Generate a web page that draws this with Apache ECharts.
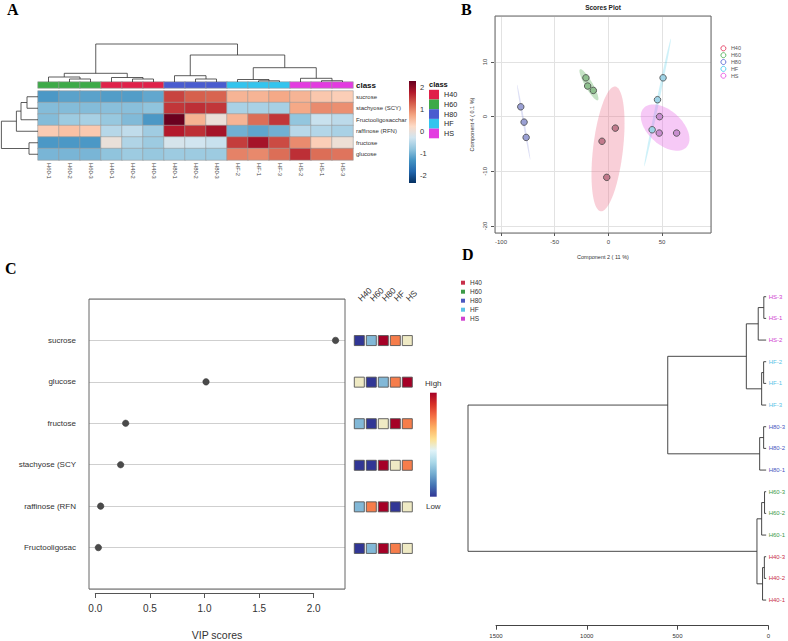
<!DOCTYPE html>
<html>
<head>
<meta charset="utf-8">
<script src="https://cdn.jsdelivr.net/npm/echarts@6/dist/echarts.min.js"></script>
<style>
html, body { margin: 0; padding: 0; background: #fff; }
#main { width: 788px; height: 641px; }
</style>
</head>
<body>
<div id="main"></div>
<script>
// ---- data ----
var groups = ['H40', 'H60', 'H80', 'HF', 'HS'];

// A: heatmap (z-scores), columns in dendrogram order
var samples = ['H60-1','H60-2','H60-3','H40-1','H40-2','H40-3','H80-1','H80-2','H80-3','HF-2','HF-1','HF-3','HS-2','HS-1','HS-3'];
var sampleClass = ['H60','H60','H60','H40','H40','H40','H80','H80','H80','HF','HF','HF','HS','HS','HS'];
var features = ['sucrose','stachyose (SCY)','Fructooligosacchar','raffinose (RFN)','fructose','glucose'];
var zSucrose   = [-1.25,-1.15,-1.15,-1.2,-1.2,-1.1, 1.45,1.25,1.22, 0.6,0.6,0.7, 0.6,0.42,0.35];
var zStachyose = [-0.88,-0.88,-0.88,-0.85,-0.85,-0.8, 1.55,1.6,1.55, -0.6,-0.6,-0.62, 0.7,0.93,0.9];
var zFructoOli = [-0.88,-0.7,-0.62,-0.75,-0.9,-1.25, 2.25,0.62,0.02, 0.6,1.15,1.55, -0.78,-0.35,-0.45];
var zRaffinose = [0.38,0.48,0.4, -0.5,-0.42,-0.68, 1.75,1.6,1.85, -1.0,-1.12,-1.0, -0.48,-0.52,-0.6];
var zFructose  = [-1.25,-1.25,-1.25, 0.0,-0.55,-0.7, -0.22,-0.28,-0.35, 1.5,1.85,1.4, 0.93,0.35,0.05];
var zGlucose   = [-0.95,-0.95,-0.95, -0.8,-0.7,-0.75, -0.7,-0.7,-0.7, 1.0,0.95,1.15, 1.6,1.15,1.1];
var zRange = [-2.32, 2.27];
// hclust style merges: negative = leaf (1-based), positive = earlier merge; third = height
var colMerge = [[-2,-3,3],[-1,1,5],[-5,-6,3],[-4,3,4.5],[2,4,8.7],[-8,-9,3],[-7,6,6.3],
                [-11,-12,1.2],[-10,8,2.5],[-14,-15,1.3],[-13,10,3.7],[9,11,14.3],[7,12,27],[5,13,38]];
var rowMerge = [[-1,-2,11],[1,-3,17],[2,-4,21.6],[-5,-6,9],[3,4,36.6]];

// B: scores (Component 2, Component 4)
var scoresH40 = [[6.5,-2.1],[-5.9,-4.5],[-1.5,-11.1]];
var scoresH60 = [[-20.9,7.1],[-19.3,5.6],[-14.0,4.8]];
var scoresH80 = [[-81.6,1.8],[-78.5,-1.0],[-76.6,-3.8]];
var scoresHF  = [[51.0,7.1],[45.8,3.1],[40.8,-2.4]];
var scoresHS  = [[47.7,0.0],[47.4,-3.0],[63.6,-3.0]];

// C: VIP scores and group level per feature (H40,H60,H80,HF,HS)
var vipNames  = ['sucrose','glucose','fructose','stachyose (SCY','raffinose (RFN','Fructooligosac'];
var vipScores = [2.20, 1.014, 0.278, 0.232, 0.049, 0.028];
var vipLevels = [[1,2,5,4,3],[3,1,2,4,5],[2,1,3,5,4],[1,1,5,3,4],[2,4,5,1,3],[1,2,5,4,3]];

// D: sample dendrogram
var dLeaves = ['HS-3','HS-1','HS-2','HF-2','HF-1','HF-3','H80-3','H80-2','H80-1','H60-3','H60-2','H60-1','H40-3','H40-2','H40-1'];
var dMerge = [[-1,-2,13],[1,-3,44],[-4,-5,14],[3,-6,25],[2,4,110],[-7,-8,14],[6,-9,36],[5,7,546],
              [-10,-11,9],[9,-12,25],[-13,-14,10],[11,-15,20],[10,12,51],[8,13,1654]];

// ---- styles ----
var groupColors = ['#E0214A', '#3DAA48', '#4A5CCF', '#33C4EE', '#E33BE0'];
var dColors = ['#C8304A', '#3C9A48', '#4A58C0', '#5BC3E6', '#D040D0'];
var ellipseFill = ['rgba(235,95,125,0.3)', 'rgba(60,160,60,0.3)', 'rgba(100,110,210,0.22)',
                   'rgba(60,200,230,0.25)', 'rgba(230,100,230,0.35)'];
var pointFill = ['#c27a8c', '#8fc08f', '#9aa0d4', '#9ed3e6', '#c88ed0'];
var rdbu = ['#053061','#2166AC','#4393C3','#92C5DE','#D1E5F0','#FDDBC7','#F4A582','#D6604D','#B2182B','#67001F'];
var rdylbu = ['#313695','#4575B4','#74ADD1','#ABD9E9','#E0F3F8','#FEE090','#FDAE61','#F46D43','#D73027','#A50026'];
var FONT = '"Liberation Sans", Arial, sans-serif';

function dendroLines(merge, flip) {
  var pos = [], hgt = [], out = [];
  function node(ref) { return ref < 0 ? [-ref - 1, 0] : [pos[ref - 1], hgt[ref - 1]]; }
  merge.forEach(function (m) {
    var a = node(m[0]), b = node(m[1]), h = m[2];
    pos.push((a[0] + b[0]) / 2); hgt.push(h);
    var pts = [[a[0], a[1]], [a[0], h], [b[0], h], [b[0], b[1]]];
    out.push({ coords: flip ? pts.map(function (p) { return [p[1], p[0]]; }) : pts });
  });
  return out;
}

// 95% normal ellipse from the group's scores
function ellipse95(pts) {
  var n = pts.length, mx = 0, my = 0, a = 0, b = 0, c = 0;
  pts.forEach(function (p) { mx += p[0] / n; my += p[1] / n; });
  pts.forEach(function (p) {
    var dx = p[0] - mx, dy = p[1] - my;
    a += dx * dx / (n - 1); b += dx * dy / (n - 1); c += dy * dy / (n - 1);
  });
  var k = Math.sqrt(5.991), l11 = Math.sqrt(a), l21 = b / l11, l22 = Math.sqrt(Math.max(c - l21 * l21, 0));
  var out = [];
  for (var i = 0; i < 90; i++) {
    var t = i / 90 * 2 * Math.PI, u = Math.cos(t), v = Math.sin(t);
    out.push([mx + k * l11 * u, my + k * (l21 * u + l22 * v)]);
  }
  return out;
}

// ---- build ----
var heatRows = [zSucrose, zStachyose, zFructoOli, zRaffinose, zFructose, zGlucose];
var heatData = [];
heatRows.forEach(function (row, r) { row.forEach(function (v, c) { heatData.push([c, r, v]); }); });
var classData = samples.map(function (s, i) {
  return { value: [i, 0, 0], itemStyle: { color: groupColors[groups.indexOf(sampleClass[i])] } };
});

var scoreSets = [scoresH40, scoresH60, scoresH80, scoresHF, scoresHS];
var ellipses = scoreSets.map(ellipse95);

var vipDots = vipScores.map(function (v, i) { return [v, 6 - i]; });
var vipSquares = [];
vipLevels.forEach(function (row, i) { row.forEach(function (l, g) { vipSquares.push([g, 6 - i, l]); }); });

var leafRich = {};
groups.forEach(function (g, i) { leafRich[g] = { color: dColors[i], fontSize: 6, fontFamily: FONT }; });

function gradientBar(colors) {
  return function (params, api) {
    var cs = params.coordSys;
    var stops = colors.map(function (c, i) { return { offset: 1 - i / (colors.length - 1), color: c }; }).reverse();
    return { type: 'rect', shape: { x: cs.x, y: cs.y, width: cs.width, height: cs.height },
      style: { fill: new echarts.graphic.LinearGradient(0, 0, 0, 1, stops) } };
  };
}

var hidden = { show: false };
function hx(grid, extra) { return Object.assign({ gridIndex: grid, type: 'value', show: false }, extra || {}); }

var chart = echarts.init(document.getElementById('main'), null, { renderer: 'svg' });

var option = {
  animation: false,
  backgroundColor: '#fff',
  textStyle: { fontFamily: FONT },
  grid: [
    { left: 38, top: 91, width: 315, height: 69 },          // 0 A heatmap
    { left: 38, top: 82, width: 315, height: 6 },           // 1 A class bar
    { left: 38, top: 40, width: 315, height: 42 },          // 2 A col tree
    { left: 0, top: 91, width: 38, height: 69 },            // 3 A row tree
    { left: 409, top: 81, width: 7, height: 102 },          // 4 A colour bar
    { left: 495, top: 16, width: 216, height: 217, show: true, borderColor: '#666', borderWidth: 1, z: 3 }, // 5 B
    { left: 501, top: 232, width: 161, height: 1 },         // 6 B x axis
    { left: 494, top: 62, width: 1, height: 164 },          // 7 B y axis
    { left: 89, top: 299, width: 256, height: 291, show: true, borderColor: '#666', borderWidth: 1, z: 3 }, // 8 C
    { left: 95.3, top: 592, width: 218.4, height: 1 },      // 9 C x axis
    { left: 353.3, top: 299, width: 60, height: 291 },      // 10 C squares
    { left: 430, top: 392.7, width: 6.7, height: 104 },     // 11 C colour bar
    { left: 462, top: 285.9, width: 306.3, height: 325 },   // 12 D tree
    { left: 496, top: 624.7, width: 272.3, height: 1 }      // 13 D axis
  ],
  xAxis: [
    { gridIndex: 0, type: 'category', data: samples, axisLine: hidden, axisTick: hidden,
      axisLabel: { rotate: -90, fontSize: 5.8, color: '#444', margin: 3, interval: 0 } },
    { gridIndex: 1, type: 'category', data: samples, show: false },
    hx(2, { min: -0.5, max: 14.5 }),
    hx(3, { min: 0, max: 38, inverse: true }),
    hx(4, { min: 0, max: 1 }),
    { gridIndex: 5, type: 'value', min: -105.6, max: 95.65, axisLine: hidden, axisTick: hidden, axisLabel: hidden,
      splitLine: { lineStyle: { color: '#e2e2e2', width: 1 } },
      name: 'Component 2 ( 11 %)', nameLocation: 'middle', nameGap: 21,
      nameTextStyle: { fontSize: 5.5, color: '#333' } },
    { gridIndex: 6, type: 'value', min: -100, max: 50, interval: 50, axisLine: hidden, splitLine: hidden,
      axisTick: { length: 3, lineStyle: { color: '#555' } },
      axisLabel: { fontSize: 6, color: '#444', margin: 6 } },
    hx(7, { min: 0, max: 1 }),
    { gridIndex: 8, type: 'value', min: -0.0577, max: 2.2866, axisLine: hidden, axisTick: hidden, axisLabel: hidden,
      splitLine: hidden, name: 'VIP scores', nameLocation: 'middle', nameGap: 40,
      nameTextStyle: { fontSize: 10.5, color: '#333' } },
    { gridIndex: 9, type: 'value', min: 0, max: 2, interval: 0.5, splitLine: hidden,
      axisLine: { lineStyle: { color: '#555' } }, axisTick: { length: 5, lineStyle: { color: '#555' } },
      axisLabel: { fontSize: 10, color: '#333', margin: 10,
        formatter: function (v) { return v.toFixed(1); } } },
    { gridIndex: 10, type: 'category', data: groups, position: 'top', axisLine: hidden, axisTick: hidden,
      axisLabel: { rotate: 45, fontSize: 8.5, color: '#333', margin: -1, interval: 0 } },
    hx(11, { min: 0, max: 1 }),
    hx(12, { min: 0, max: 1687.3, inverse: true }),
    { gridIndex: 13, type: 'value', min: 0, max: 1500, interval: 500, inverse: true, splitLine: hidden,
      axisLine: { lineStyle: { color: '#444' } }, axisTick: { length: 4, lineStyle: { color: '#444' } },
      axisLabel: { fontSize: 6, color: '#333', margin: 7, formatter: function (v) { return String(v); } } }
  ],
  yAxis: [
    { gridIndex: 0, type: 'category', data: features, inverse: true, position: 'right',
      axisLine: hidden, axisTick: hidden, axisLabel: { fontSize: 6, color: '#333', margin: 3 } },
    { gridIndex: 1, type: 'category', data: ['class'], position: 'right', axisLine: hidden, axisTick: hidden,
      axisLabel: { fontSize: 8, fontWeight: 'bold', color: '#111', margin: 3 } },
    hx(2, { min: 0, max: 42 }),
    hx(3, { min: -0.5, max: 5.5, inverse: true }),
    { gridIndex: 4, type: 'value', min: zRange[0], max: zRange[1], position: 'right',
      axisLine: hidden, axisTick: hidden, splitLine: hidden,
      axisLabel: { fontSize: 7.5, color: '#333', margin: 4, showMinLabel: false, showMaxLabel: false } },
    { gridIndex: 5, type: 'value', min: -21.28, max: 18.41, axisLine: hidden, axisTick: hidden, axisLabel: hidden,
      splitLine: { lineStyle: { color: '#e2e2e2', width: 1 } },
      name: 'Component 4 ( 0.1 %)', nameLocation: 'middle', nameGap: 20,
      nameTextStyle: { fontSize: 5.5, color: '#333' } },
    hx(6, { min: 0, max: 1 }),
    { gridIndex: 7, type: 'value', min: -20, max: 10, interval: 10, axisLine: hidden, splitLine: hidden,
      axisTick: { length: 3, lineStyle: { color: '#555' } },
      axisLabel: { rotate: 90, fontSize: 6, color: '#444', margin: 6 } },
    { gridIndex: 8, type: 'value', min: 0, max: 7, interval: 1, axisLine: hidden, axisTick: hidden,
      splitLine: { lineStyle: { color: '#cfcfcf', width: 1 } },
      axisLabel: { fontSize: 8, color: '#333', margin: 13,
        formatter: function (v) { return (v >= 1 && v <= 6) ? vipNames[6 - v] : ''; } } },
    hx(9, { min: 0, max: 1 }),
    hx(10, { min: 0, max: 7 }),
    hx(11, { min: 0, max: 1 }),
    hx(12, { min: -0.5, max: 14.5, inverse: true }),
    hx(13, { min: 0, max: 1 }),
    { gridIndex: 12, type: 'category', data: dLeaves, inverse: true, position: 'right',
      axisLine: hidden, axisTick: hidden,
      axisLabel: { margin: 2.5, interval: 0,
        formatter: function (v) { return '{' + v.split('-')[0] + '|' + v + '}'; }, rich: leafRich } }
  ],
  visualMap: [
    { type: 'continuous', show: false, seriesIndex: 0, dimension: 2, min: zRange[0], max: zRange[1],
      inRange: { color: rdbu } },
    { type: 'continuous', show: false, seriesIndex: 12, dimension: 2, min: 1, max: 5,
      inRange: { color: rdylbu } }
  ],
  legend: [
    { left: 429, top: 89.8, orient: 'vertical', padding: 0, itemGap: 0, itemWidth: 10, itemHeight: 9.7,
      selectedMode: false, icon: 'rect',
      textStyle: { fontSize: 7.2, color: '#222', lineHeight: 9.7 },
      data: groups.map(function (g, i) { return { name: g, itemStyle: { color: groupColors[i], borderWidth: 0 } }; }) },
    { left: 720.5, top: 44.9, orient: 'vertical', padding: 0, itemGap: 0, itemWidth: 5, itemHeight: 5,
      selectedMode: false, icon: 'circle',
      textStyle: { fontSize: 5.5, color: '#555', lineHeight: 6.85 },
      data: groups.map(function (g, i) {
        return { name: g, itemStyle: { color: '#fff', borderColor: groupColors[i], borderWidth: 0.8 } };
      }) },
    { left: 461, top: 278.2, orient: 'vertical', padding: 0, itemGap: 0, itemWidth: 4, itemHeight: 4,
      selectedMode: false, icon: 'rect',
      textStyle: { fontSize: 6.5, color: '#333', lineHeight: 9 },
      data: groups.map(function (g, i) { return { name: g, itemStyle: { color: dColors[i], borderWidth: 0 } }; }) }
  ],
  series: [
    // 0 heatmap
    { type: 'heatmap', xAxisIndex: 0, yAxisIndex: 0, data: heatData,
      itemStyle: { borderColor: '#9a9a9a', borderWidth: 0.6 }, emphasis: { disabled: true } },
    // 1 class bar
    { type: 'heatmap', xAxisIndex: 1, yAxisIndex: 1, data: classData,
      itemStyle: { borderColor: '#9a9a9a', borderWidth: 0.6 }, emphasis: { disabled: true } },
    // 2 column dendrogram
    { type: 'lines', coordinateSystem: 'cartesian2d', xAxisIndex: 2, yAxisIndex: 2, polyline: true, silent: true,
      lineStyle: { color: '#333', width: 0.8, opacity: 1 }, data: dendroLines(colMerge, false) },
    // 3 row dendrogram
    { type: 'lines', coordinateSystem: 'cartesian2d', xAxisIndex: 3, yAxisIndex: 3, polyline: true, silent: true,
      lineStyle: { color: '#333', width: 0.8, opacity: 1 }, data: dendroLines(rowMerge, true) },
    // 4 heatmap colour bar
    { type: 'custom', xAxisIndex: 4, yAxisIndex: 4, data: [[0.5, 0]], silent: true, renderItem: gradientBar(rdbu) },
    // 5 confidence ellipses
    { type: 'custom', xAxisIndex: 5, yAxisIndex: 5, silent: true, z: 1,
      data: scoreSets.map(function (s, i) { return [s[0][0], s[0][1], i]; }),
      renderItem: function (params, api) {
        var i = params.dataIndex;
        return { type: 'polygon', shape: { points: ellipses[i].map(function (p) { return api.coord(p); }) },
          style: { fill: ellipseFill[i], stroke: null } };
      } }
  ].concat(groups.map(function (g, i) {
    // 6..10 score points
    return { type: 'scatter', name: g, xAxisIndex: 5, yAxisIndex: 5, data: scoreSets[i], symbolSize: 6.5, z: 3,
      itemStyle: { color: pointFill[i], borderColor: '#444', borderWidth: 0.8, opacity: 1 } };
  })).concat([
    // 11 VIP dots
    { type: 'scatter', xAxisIndex: 8, yAxisIndex: 8, data: vipDots, symbolSize: 6.5,
      itemStyle: { color: '#4a4a4a', borderColor: '#333', borderWidth: 0.5, opacity: 1 } },
    // 12 VIP group squares
    { type: 'scatter', xAxisIndex: 10, yAxisIndex: 10, data: vipSquares, symbol: 'rect', symbolSize: 10,
      itemStyle: { borderColor: '#555', borderWidth: 0.9, opacity: 1 } },
    // 13 VIP colour bar
    { type: 'custom', xAxisIndex: 11, yAxisIndex: 11, data: [[0.5, 0.5]], silent: true, renderItem: gradientBar(rdylbu) },
    // 14 sample dendrogram
    { type: 'lines', coordinateSystem: 'cartesian2d', xAxisIndex: 12, yAxisIndex: 12, polyline: true, silent: true,
      lineStyle: { color: '#333', width: 0.9, opacity: 1 }, data: dendroLines(dMerge, true) }
  ]),
  graphic: [
    { type: 'text', x: 7, y: 1, style: { text: 'A', font: 'bold 16px "Liberation Serif", serif', fill: '#000' } },
    { type: 'text', x: 461, y: 1, style: { text: 'B', font: 'bold 16px "Liberation Serif", serif', fill: '#000' } },
    { type: 'text', x: 5, y: 260, style: { text: 'C', font: 'bold 16px "Liberation Serif", serif', fill: '#000' } },
    { type: 'text', x: 462, y: 246, style: { text: 'D', font: 'bold 16px "Liberation Serif", serif', fill: '#000' } },
    { type: 'text', x: 603, y: 7, style: { text: 'Scores Plot', font: 'bold 6.5px ' + FONT, fill: '#222',
      align: 'center', verticalAlign: 'middle' } },
    { type: 'text', x: 429, y: 84.5, style: { text: 'class', font: 'bold 7.5px ' + FONT, fill: '#111',
      align: 'left', verticalAlign: 'middle' } },
    { type: 'text', x: 433.3, y: 383, style: { text: 'High', font: '8px ' + FONT, fill: '#333',
      align: 'center', verticalAlign: 'middle' } },
    { type: 'text', x: 433.3, y: 506, style: { text: 'Low', font: '8px ' + FONT, fill: '#333',
      align: 'center', verticalAlign: 'middle' } }
  ]
};

chart.setOption(option);
</script>
</body>
</html>
